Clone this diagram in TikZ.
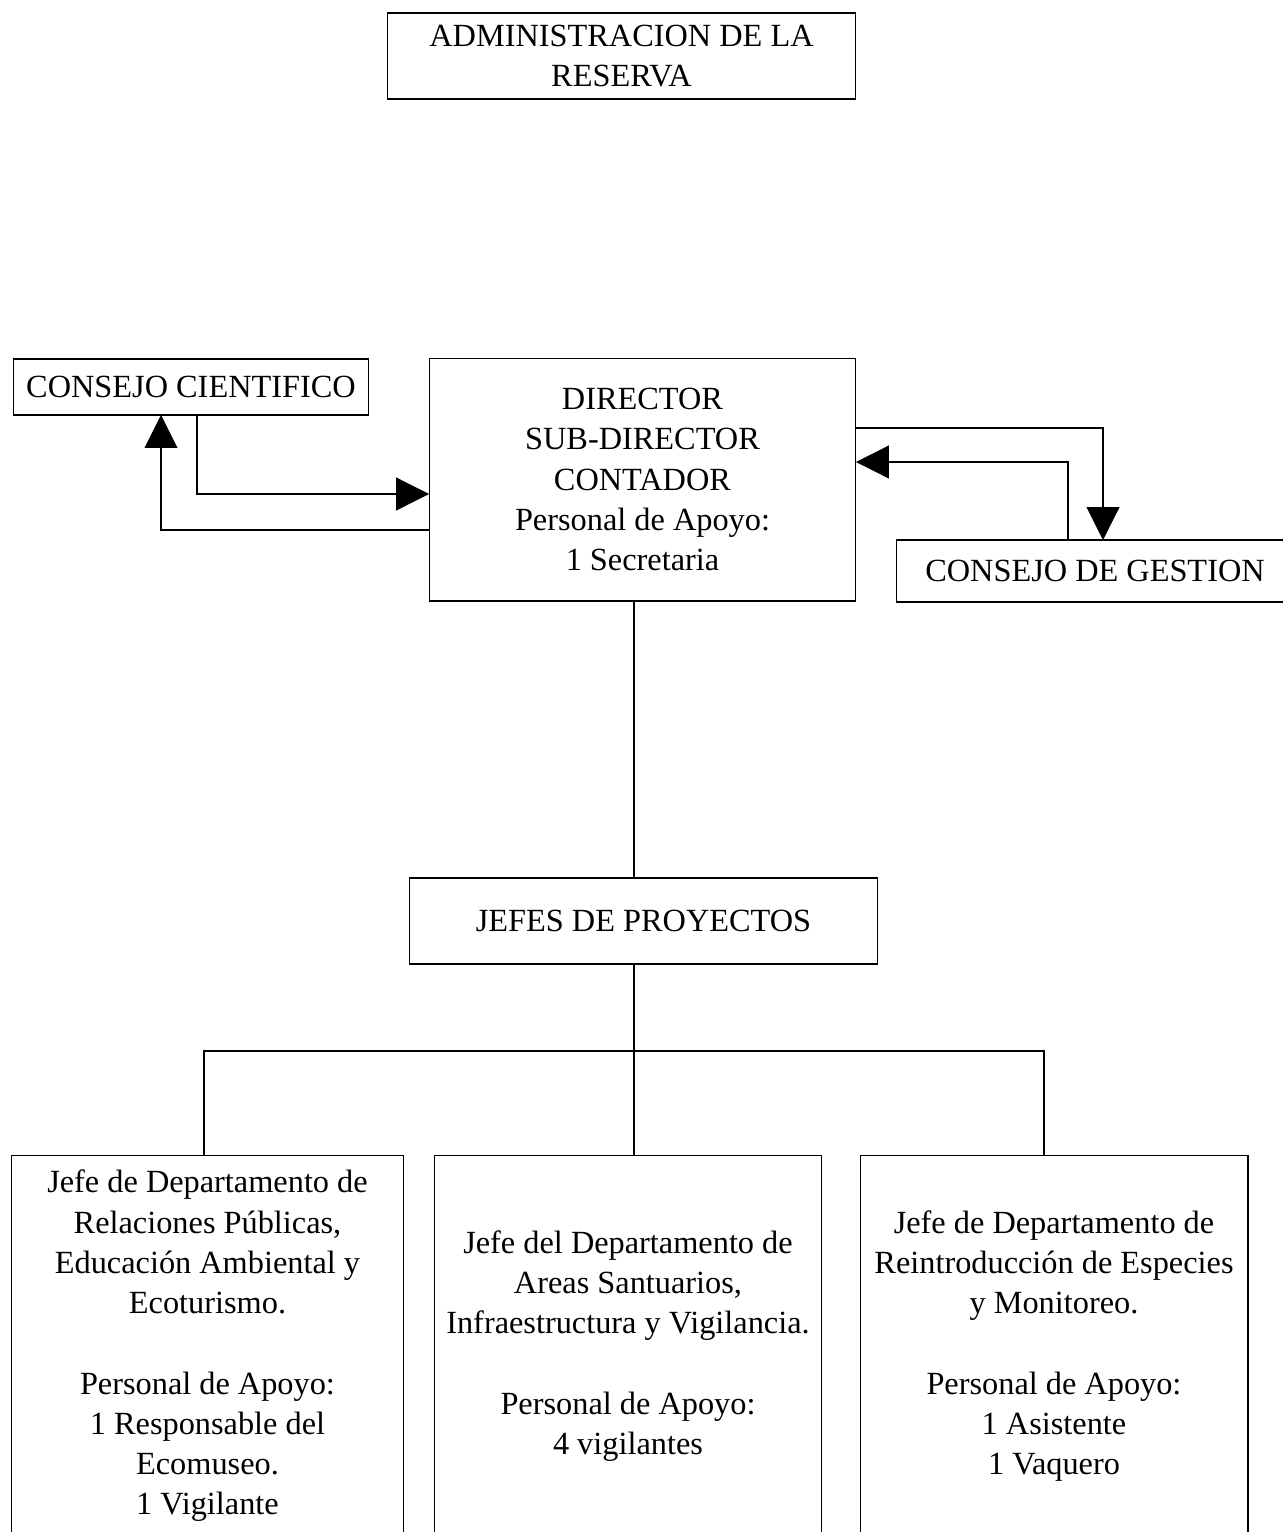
\documentclass[tikz,border=0pt]{standalone}
\usepackage{fontspec}
\setmainfont{Liberation Serif}
\usetikzlibrary{arrows.meta}
\tikzset{
  box/.style={draw, line width=0.6pt, inner sep=0pt, outer sep=0pt, align=center,
    font=\fontsize{18.4}{22.9}\selectfont},
  conn/.style={line width=0.6pt},
  arr/.style={line width=0.6pt, -{Triangle[length=0.66cm,width=0.66cm]}}
}
\begin{document}
\begin{tikzpicture}[x=0.02cm,y=-0.02cm]
\useasboundingbox (0,0) rectangle (1283,1532);
\clip (0,0) rectangle (1283,1532);
\fill[white] (0,0) rectangle (1283,1532);

\node[box, minimum width=9.38cm, minimum height=1.72cm] (A) at (621.5,56)
  {ADMINISTRACION DE LA\\RESERVA};
\node[box, minimum width=7.12cm, minimum height=1.12cm] (CC) at (191,387)
  {CONSEJO CIENTIFICO};
\node[box, minimum width=8.54cm, minimum height=4.86cm] (D) at (642.5,479.5)
  {DIRECTOR\\SUB-DIRECTOR\\CONTADOR\\Personal de Apoyo:\\1 Secretaria};
\node[box, minimum width=7.96cm, minimum height=1.24cm] (G) at (1095,571)
  {CONSEJO DE GESTION};
\node[box, minimum width=9.38cm, minimum height=1.72cm] (J) at (643.5,921)
  {JEFES DE PROYECTOS};

\node[box, minimum width=7.86cm, minimum height=7.62cm] (L) at (207.5,1346)
  {Jefe de Departamento de\\Relaciones Públicas,\\Educación Ambiental y\\Ecoturismo.\\[22.9pt]Personal de Apoyo:\\1 Responsable del\\Ecomuseo.\\1 Vigilante};
\node[box, minimum width=7.76cm, minimum height=7.62cm] (M) at (628,1346)
  {Jefe del Departamento de\\Areas Santuarios,\\Infraestructura y Vigilancia.\\[22.9pt]Personal de Apoyo:\\4 vigilantes};
\node[box, minimum width=7.76cm, minimum height=7.62cm] (R) at (1054,1346)
  {Jefe de Departamento de\\Reintroducción de Especies\\y Monitoreo.\\[22.9pt]Personal de Apoyo:\\1 Asistente\\1 Vaquero};

% helper coordinates
\coordinate (c1) at (197,494);
\coordinate (c2) at (161,530);
\coordinate (g1) at (1103,428);
\coordinate (g2) at (1068,462);
\coordinate (spine) at (634,0);
\coordinate (l1) at (204,1051);
\coordinate (r1) at (1044,1051);

% arrows between councils and director
\draw[arr] (CC.south -| c1) |- (D.west |- c1);
\draw[arr] (D.west |- c2) -| (CC.south -| c2);
\draw[arr] (D.east |- g1) -| (G.north -| g1);
\draw[arr] (G.north -| g2) |- (D.east |- g2);

% hierarchy
\draw[conn] (D.south -| spine) -- (J.north -| spine);
\draw[conn] (J.south -| spine) -- (M.north -| spine);
\draw[conn] (L.north -| l1) -- (l1) -- (r1) -- (R.north -| r1);
\end{tikzpicture}
\end{document}
